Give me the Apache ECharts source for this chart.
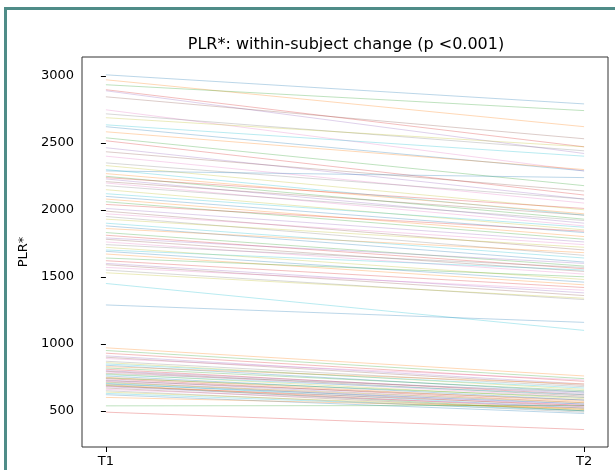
<!DOCTYPE html>
<html>
<head>
<meta charset="utf-8">
<script src="https://cdn.jsdelivr.net/npm/echarts@6/dist/echarts.min.js"></script>
<style>
  html, body { margin: 0; padding: 0; background: #fff; }
  #main { position: absolute; left: 0; top: 0; width: 615px; height: 470px; }
  #frame { position: absolute; left: 4px; top: 7px; width: 700px; height: 600px;
           border-left: 3px solid #4f8c88; border-top: 3px solid #4f8c88; pointer-events: none; }
</style>
</head>
<body>
<div id="main"></div>
<div id="frame"></div>
<script>
var timepoints = ['T1', 'T2'];
var yTicks = [500, 1000, 1500, 2000, 2500, 3000];

// PLR* per subject at T1 and T2
var plrT1 = [
  3007, 2970, 2933, 2896, 2888, 2843, 2746, 2716, 2687, 2634,
  2620, 2582, 2537, 2515, 2463, 2433, 2400, 2350, 2330, 2300,
  2290, 2270, 2250, 2240, 2230, 2210, 2200, 2180, 2150, 2120,
  2100, 2080, 2060, 2040, 2010, 1990, 1970, 1950, 1930, 1900,
  1880, 1860, 1830, 1810, 1790, 1780, 1760, 1740, 1720, 1700,
  1690, 1670, 1640, 1620, 1600, 1590, 1570, 1550, 1530, 1450,
  1290,
  970, 950, 930, 910, 900, 890, 870, 860, 850, 840,
  830, 820, 810, 800, 795, 790, 780, 775, 770, 760,
  750, 745, 740, 730, 725, 720, 715, 710, 705, 700,
  695, 690, 685, 680, 670, 660, 650, 640, 630, 620,
  600, 537, 490
];
var plrT2 = [
  2790, 2620, 2740, 2470, 2420, 2530, 2290, 2440, 2470, 2400,
  2290, 2300, 2180, 2110, 2080, 2140, 2050, 2080, 2000, 1960,
  2240, 1970, 1930, 2010, 1900, 1960, 1880, 1920, 1850, 1870,
  1830, 1800, 1780, 1840, 1760, 1700, 1740, 1660, 1720, 1640,
  1610, 1680, 1580, 1560, 1600, 1540, 1520, 1570, 1480, 1550,
  1460, 1440, 1500, 1420, 1380, 1360, 1400, 1330, 1340, 1100,
  1160,
  760, 740, 720, 700, 690, 730, 680, 660, 670, 640,
  700, 650, 620, 630, 610, 600, 640, 590, 620, 580,
  570, 600, 560, 550, 580, 540, 530, 560, 520, 550,
  510, 500, 540, 520, 500, 530, 490, 510, 500, 480,
  520, 540, 360
];

var palette = ['#1f77b4', '#ff7f0e', '#2ca02c', '#d62728', '#9467bd',
               '#8c564b', '#e377c2', '#7f7f7f', '#bcbd22', '#17becf'];

var series = plrT1.map(function (v, i) {
  return {
    type: 'line',
    data: [[0, v], [1, plrT2[i]]],
    symbol: 'none',
    silent: true,
    lineStyle: { width: 1, color: palette[i % 10], opacity: 0.3 }
  };
});

var chart = echarts.init(document.getElementById('main'));
chart.setOption({
  animation: false,
  title: {
    text: 'PLR*: within-subject change (p <0.001)',
    left: 341,
    textAlign: 'center',
    top: 32,
    textStyle: { fontFamily: 'DejaVu Sans', fontSize: 16, fontWeight: 'normal', color: '#000' }
  },
  grid: {
    left: 82, right: 7, top: 57, bottom: 23,
    show: true, borderColor: '#333', borderWidth: 1
  },
  xAxis: {
    type: 'value',
    min: -0.05, max: 1.05,
    splitLine: { show: false },
    axisLine: { show: false },
    axisTick: { show: true, length: 5, lineStyle: { color: '#000' }, customValues: [0, 1] },
    axisLabel: {
      customValues: [0, 1],
      formatter: function (v) { return timepoints[Math.round(v)]; },
      color: '#000', fontFamily: 'DejaVu Sans', fontSize: 13, margin: 8
    }
  },
  yAxis: {
    type: 'value',
    min: 230, max: 3140,
    name: 'PLR*',
    nameLocation: 'middle',
    nameGap: 45,
    nameTextStyle: { fontFamily: 'DejaVu Sans', fontSize: 13, color: '#000' },
    splitLine: { show: false },
    axisLine: { show: false },
    axisTick: { show: true, length: 5, lineStyle: { color: '#000' }, customValues: yTicks },
    axisLabel: {
      customValues: yTicks,
      formatter: function (v) { return String(v); },
      color: '#000', fontFamily: 'DejaVu Sans', fontSize: 13, margin: 8
    }
  },
  series: series
});
</script>
</body>
</html>
